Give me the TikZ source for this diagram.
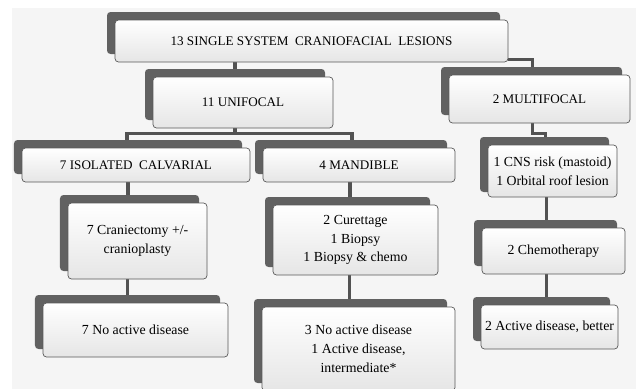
\documentclass[tikz,border=0pt]{standalone}
\usepackage{fontspec}
\setmainfont{Liberation Serif}
\usetikzlibrary{shadows, backgrounds}
\tikzset{
  cbox/.style={draw=black!65, line width=0.6pt, rounded corners=3pt, top color=white, bottom color=black!10,
    align=center, inner sep=2pt, font=\fontsize{11.8}{16}\selectfont,
    drop shadow={shadow xshift=-0.24cm, shadow yshift=0.24cm, fill=black!62, opacity=1}},
  capbox/.style={cbox, font=\fontsize{11.2}{16}\selectfont},
  bsz/.style 2 args={minimum width=#1*0.03cm, minimum height=#2*0.03cm},
  conn/.style={draw=black!68, line width=2.6pt}
}

\begin{document}
\begin{tikzpicture}[x=0.03cm, y=-0.03cm]
		\useasboundingbox (0,0) rectangle (636,389);
		% level 1 and 2
		\node[capbox, bsz={393}{42}] (top) at (311.5,41) {13 SINGLE SYSTEM \ CRANIOFACIAL \ LESIONS};
		\node[capbox, bsz={180}{51}] (uni) at (243,102.5) {11 UNIFOCAL};
		\node[capbox, bsz={181}{48}] (multi) at (539.5,99) {2 MULTIFOCAL};
		% level 3
		\node[capbox, bsz={228}{34}] (iso) at (136,165) {7 ISOLATED \ CALVARIAL};
		\node[capbox, bsz={192}{34}] (mand) at (359,165) {4 MANDIBLE};
		\node[cbox, bsz={129}{52}, drop shadow={shadow xshift=-0.24cm, shadow yshift=0.15cm, fill=black!62, opacity=1}] (cns) at (552.5,171) {1 CNS risk (mastoid)\\1 Orbital roof lesion};
		% treatment
		\node[cbox, bsz={139}{76}] (cran) at (137.5,241) {7 Craniectomy +/-\\cranioplasty};
		\node[cbox, bsz={165}{70}] (cur) at (355.5,240) {2 Curettage\\1 Biopsy\\1 Biopsy \& chemo};
		\node[cbox, bsz={143}{46}] (chemo) at (553.5,251) {2 Chemotherapy};
		% outcome
		\node[cbox, bsz={185}{54}] (noact) at (135.5,330) {7 No active disease};
		\node[cbox, bsz={193}{84}] (noactb) at (358.5,349) {3 No active disease\\1 Active disease,\\intermediate*};
		\node[cbox, bsz={137}{44}] (better) at (549.5,327) {2 Active disease, better};
		% connectors
		\begin{scope}[on background layer]
		\fill[white] (0,0) rectangle (636,389);
		\fill[black!4] (12,8) rectangle (636,389);
		\draw[conn] ([xshift=-0.24cm]uni.north) -- ([xshift=-0.24cm]uni.north |- top.south);
		\draw[conn] ([yshift=0.08cm]top.south east) -| ([xshift=-0.2cm]multi.north);
		\draw[conn] ([xshift=-0.24cm]uni.south) -- ++(0,5) -| ([xshift=-0.27cm]iso.north);
		\draw[conn] ([xshift=-0.24cm]uni.south) -- ++(0,5) -| ([xshift=-0.21cm]mand.north);
		\draw[conn] ([xshift=-0.2cm]multi.south) -- ++(0,10) -| ([xshift=-0.22cm]cns.north);
		\draw[conn] ([xshift=-0.24cm]iso.south) -- ([xshift=-0.24cm]iso.south |- cran.north);
		\draw[conn] ([xshift=-0.29cm]cran.south) -- ([xshift=-0.29cm]cran.south |- noact.north);
		\draw[conn] ([xshift=-0.27cm]mand.south) -- ([xshift=-0.27cm]mand.south |- cur.north);
		\draw[conn] ([xshift=-0.17cm]cur.south) -- ([xshift=-0.17cm]cur.south |- noactb.north);
		\draw[conn] ([xshift=-0.17cm]cns.south) -- ([xshift=-0.17cm]cns.south |- chemo.north);
		\draw[conn] ([xshift=-0.2cm]chemo.south) -- ([xshift=-0.2cm]chemo.south |- better.north);
		\end{scope}
	\end{tikzpicture}
\end{document}
